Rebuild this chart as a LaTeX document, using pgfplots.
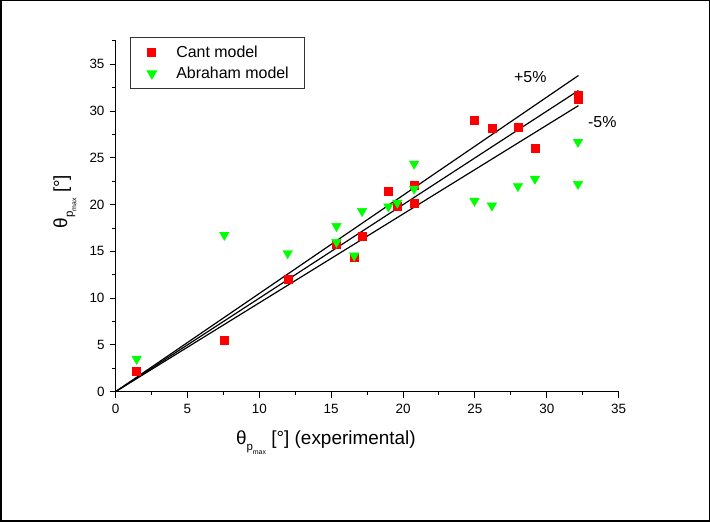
\documentclass[border=0pt]{standalone}
\usepackage{pgfplots}
\pgfplotsset{compat=1.18}
\usepackage{fontspec}
\setmainfont{Liberation Sans}
\definecolor{cantred}{RGB}{255,0,0}
\definecolor{abrgreen}{RGB}{0,255,0}
\pgfplotsset{mylegimg/.style={legend image code/.code={\path (-7bp,0) (22bp,0); \draw[mark repeat=1,##1] plot coordinates {(0,0)};}}}
\newcommand{\thp}{θ\raisebox{-0.3em}{\fontsize{11.5}{11.5}\selectfont p\raisebox{-0.3em}{\fontsize{7}{7}\selectfont max}}}
\begin{document}
\begin{tikzpicture}[x=1bp,y=1bp]
\draw[line width=1.5bp] (0.75,0.75) rectangle (709.25,521.25);
\begin{axis}[
  at={(115.5bp,130.3bp)}, anchor=south west,
  scale only axis, width=503.2bp, height=350.7bp,
  xmin=0, xmax=35, ymin=0, ymax=37.5,
  axis lines=left, axis line style={-, line width=1bp},
  xtick={0,5,...,35}, ytick={0,5,...,35},
  minor xtick={2.5,7.5,...,32.5}, minor ytick={2.5,7.5,...,37.5},
  tick align=outside, major tick length=6bp, minor tick length=3.5bp,
  tick style={black, line width=1bp},
  ticklabel style={font=\fontsize{13.5}{13.5}\selectfont},
  xticklabel style={yshift=-3bp},
  yticklabel style={xshift=-1.5bp},
  /pgf/number format/assume math mode=true,
  xlabel={\thp\ [°] (experimental)},
  ylabel={\thp\ [°]},
  label style={font=\fontsize{19}{19}\selectfont},
  xlabel style={at={(axis description cs:0.418,-0.152)}, anchor=base},
  ylabel style={at={(axis description cs:-0.096,0.542)}, anchor=base, rotate=0},
  legend style={at={(axis description cs:0.029,1.011)}, anchor=north west,
    draw=black!80, line width=0.8bp, font=\fontsize{16}{16}\selectfont,
    inner xsep=14bp, inner ysep=6.5bp, row sep=4bp},
  legend cell align=left,
  clip=false,
]
\addplot[only marks, mark=square*, mark size=4bp, mark options={fill=cantred, draw=cantred}, mylegimg]
 coordinates {(1.47,2.14) (7.57,5.54) (11.98,12.08) (15.37,15.72) (16.6,14.4) (17.17,16.6)
 (18.98,21.4) (19.6,19.8) (20.77,22.1) (20.77,20.2) (24.97,29.05) (26.18,28.15) (27.99,28.25)
 (29.17,26.05) (32.17,31.7) (32.17,31.26)};
\addlegendentry{Cant model}
\addplot[only marks, mark=triangle*, mark size=5.5bp, mark options={fill=abrgreen, draw=abrgreen, rotate=180}, mylegimg]
 coordinates {(1.47,3.5) (7.57,16.76) (11.98,14.8) (15.37,17.7) (15.37,16.0) (16.6,14.55)
 (17.15,19.3) (18.98,19.8) (19.6,20.2) (20.77,24.37) (20.77,21.7) (24.97,20.4) (26.18,19.9)
 (27.99,21.97) (29.17,22.76) (32.17,26.7) (32.17,22.2)};
\addlegendentry{Abraham model}
\addplot[black, line width=1.2bp, forget plot] coordinates {(0,0) (32.2,33.81)};
\addplot[black, line width=1.2bp, forget plot] coordinates {(0,0) (32.2,32.2)};
\addplot[black, line width=1.2bp, forget plot] coordinates {(0,0) (32.2,30.59)};
\node[font=\fontsize{16}{16}\selectfont] at (axis cs:28.85,33.6) {+5\%};
\node[font=\fontsize{16}{16}\selectfont] at (axis cs:33.86,28.8) {-5\%};
\end{axis}
\end{tikzpicture}
\end{document}
